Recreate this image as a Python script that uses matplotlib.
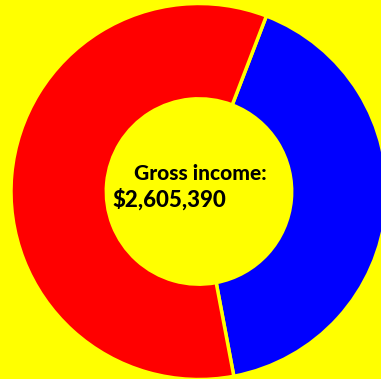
import matplotlib
matplotlib.use("Agg")
import matplotlib.pyplot as plt

# share of gross income (roughly 41% / 59%)
labels = ["Blue", "Red"]
shares = [41.2, 58.8]
colors = ["#0000FF", "#FF0000"]
title_line = "Gross income:"
amount_line = "$2,605,390"

W, H = 381, 379
fig = plt.figure(figsize=(W/100, H/100), dpi=100)
fig.patch.set_facecolor("#FFFF00")
ax = fig.add_axes([0, 0, 1, 1])
ax.set_facecolor("#FFFF00")

cx, cy, r = 199, H - 191.5, 188
ax.pie(shares, colors=colors, startangle=69, counterclock=False,
       center=(cx, cy), radius=r, frame=True,
       wedgeprops=dict(width=r*0.507, edgecolor="#FFFF00", linewidth=2.5))
ax.set_xlim(0, W)
ax.set_ylim(0, H)
ax.set_aspect("equal")
ax.axis("off")

ax.text(200, H - 173, title_line, ha="center", va="center",
        fontsize=15, fontweight="black", family="Lato", color="black")
ax.text(112, H - 199, amount_line, ha="left", va="center",
        fontsize=16, fontweight="black", family="Lato", color="black")

fig.savefig("out.png", dpi=100, facecolor=fig.get_facecolor())
